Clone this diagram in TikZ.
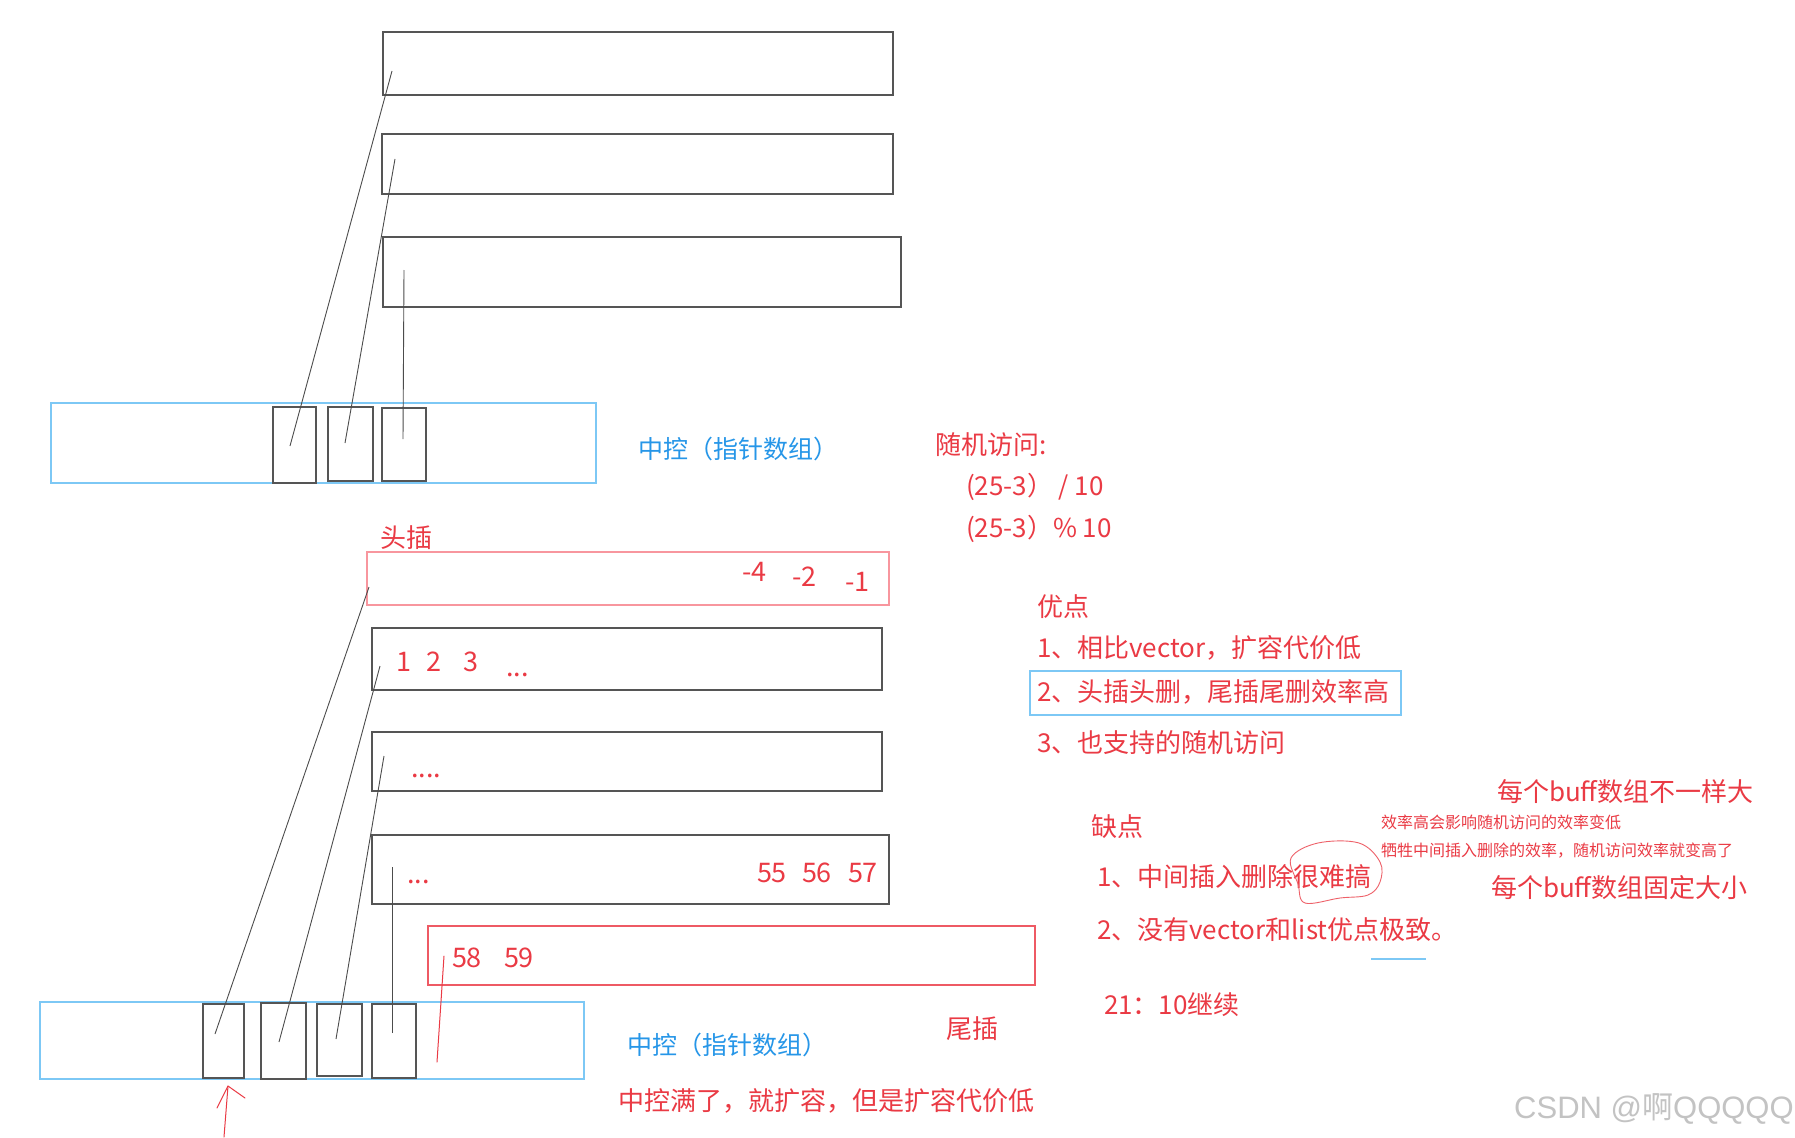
\documentclass[tikz,border=0pt]{standalone}
\usepackage{fontspec}
\setmainfont{Noto Sans CJK SC}
\newfontfamily\wmfont{Liberation Sans}
\usetikzlibrary{calc}
\definecolor{hred}{RGB}{234,58,68}
\definecolor{lred}{RGB}{248,150,158}
\definecolor{mred}{RGB}{238,90,100}
\definecolor{hblue}{RGB}{38,150,232}
\definecolor{lblue}{RGB}{125,200,245}
\definecolor{bx}{RGB}{85,85,85}
\definecolor{wm}{RGB}{195,195,195}
\begin{document}
\begin{tikzpicture}[x=1pt,y=-1pt,
  rect/.style={draw=bx, line width=1.2pt, anchor=north west, inner sep=0, outer sep=0},
  cell/.style={rect},
  ctrl/.style={draw=lblue, line width=1.5pt, anchor=north west, inner sep=0, outer sep=0},
  redbox/.style={draw=lred, line width=1.5pt, anchor=north west, inner sep=0, outer sep=0},
  ptr/.style={draw=black!70, line width=0.9pt},
  t/.style={anchor=west, inner sep=0, outer sep=0, text=hred, font=\fontsize{26}{30}\selectfont, text height=22pt, text depth=4pt},
  tb/.style={t, text=hblue, font=\fontsize{25}{29}\selectfont, text height=21.2pt, text depth=3.8pt},
  tn/.style={t, font=\fontsize{27}{30}\selectfont, text height=23pt, text depth=4pt},
  ts/.style={t, font=\fontsize{16}{18}\selectfont, text height=13.6pt, text depth=2.4pt},
  hand/.style={draw=hred, line width=1pt, line cap=round, line join=round}
]
\useasboundingbox (0,0) rectangle (1795,1137);
\fill[white] (0,0) rectangle (1795,1137);

% ---------- upper part ----------
\node[rect, minimum width=510, minimum height=63] (t1) at (383,32) {};
\node[rect, minimum width=511, minimum height=60] (t2) at (382,134) {};
\node[rect, minimum width=518, minimum height=70] (t3) at (383,237) {};

\node[ctrl, minimum width=545, minimum height=80] (uc) at (51,403) {};
\node[cell, minimum width=43, minimum height=76] (uc1) at (273,407) {};
\node[cell, minimum width=45, minimum height=74] (uc2) at (328,407) {};
\node[cell, minimum width=44, minimum height=73] (uc3) at (382,408) {};

\coordinate (u1a) at (290,446); \coordinate (u1b) at (392,71);
\coordinate (u2a) at (345,443); \coordinate (u2b) at (395,159);
\coordinate (u3a) at (403,439); \coordinate (u3b) at (404,270);
\draw[ptr] (u1a) -- (u1b);
\draw[ptr] (u2a) -- (u2b);
\draw[ptr] (u3a) -- (u3b);

\node[tb] (ulab) at (638,450) {中控（指针数组）};

% ---------- lower part ----------
\node[t] (toucha) at (380,538) {头插};
\node[redbox, minimum width=522, minimum height=53] (b1) at (367,552) {};
\node[tn] (n4) at (742,572) {-4};
\node[tn] (n2) at (792,577) {-2};
\node[tn] (n1) at (845,582) {-1};

\node[rect, minimum width=510, minimum height=62] (b2) at (372,628) {};
\node[tn] (d1) at (396,662) {1};
\node[tn] (d2) at (426,662) {2};
\node[tn] (d3) at (463,662) {3};
\node[tn, anchor=base west] (d4) at (506,676) {...};

\node[rect, minimum width=510, minimum height=59] (b3) at (372,732) {};
\node[tn, anchor=base west] (d5) at (411,777) {....};

\node[rect, minimum width=517, minimum height=69] (b4) at (372,835) {};
\node[tn, anchor=base west] (d6) at (407,883) {...};
\node[tn] (d55) at (757,873) {55};
\node[tn] (d56) at (802,873) {56};
\node[tn] (d57) at (848,873) {57};

\node[redbox, draw=mred, minimum width=607, minimum height=59] (b5) at (428,926) {};
\node[tn] (d58) at (452,958) {58};
\node[tn] (d59) at (504,958) {59};

\node[ctrl, minimum width=544, minimum height=77] (lc) at (40,1002) {};
\node[cell, minimum width=41, minimum height=74] (lc1) at (203,1004) {};
\node[cell, minimum width=45, minimum height=76] (lc2) at (261,1003) {};
\node[cell, minimum width=45, minimum height=72] (lc3) at (317,1004) {};
\node[cell, minimum width=44, minimum height=74] (lc4) at (372,1004) {};

\coordinate (l1a) at (215,1034); \coordinate (l1b) at (369,587);
\coordinate (l2a) at (279,1042); \coordinate (l2b) at (380,666);
\coordinate (l3a) at (336,1039); \coordinate (l3b) at (384,756);
\coordinate (l4a) at (392,1033); \coordinate (l4b) at (392,867);
\draw[ptr] (l1a) -- (l1b);
\draw[ptr] (l2a) -- (l2b);
\draw[ptr] (l3a) -- (l3b);
\draw[ptr] (l4a) -- (l4b);

% red strokes
\coordinate (rs1) at (444,956); \coordinate (rs2) at (437,1062);
\draw[hand] (rs1) -- (rs2);
\coordinate (ar0) at (224,1137); \coordinate (ar1) at (228,1086);
\coordinate (arl) at (217,1108); \coordinate (arr) at (245,1098);
\draw[hand] (ar0) -- (ar1);
\draw[hand] (arl) -- (ar1) -- (arr);

\node[tb] (llab) at (627,1046) {中控（指针数组）};
\node[t] (weicha) at (946,1029) {尾插};
\node[t] (full) at (618,1101) {中控满了，就扩容，但是扩容代价低};

% ---------- right texts ----------
\node[t] (ra) at (935,445) {随机访问:};
\node[t] (rb) at (966,486) {(25-3） / 10};
\node[t] (rc) at (966,528) {(25-3）\% 10};

\node[t] (yd) at (1037,607) {优点};
\node[t] (y1) at (1037,648) {1、相比vector，扩容代价低};
\node[t] (y2) at (1037,692) {2、头插头删，尾插尾删效率高};
\node[ctrl, minimum width=371, minimum height=44] (y2box) at (1030,671) {};
\node[t] (y3) at (1037,743) {3、也支持的随机访问};

\node[t] (bsz1) at (1497,792) {每个buff数组不一样大};
\node[t] (qd) at (1091,827) {缺点};
\node[ts] (s1) at (1381,823) {效率高会影响随机访问的效率变低};
\node[ts] (s2) at (1381,851) {牺牲中间插入删除的效率，随机访问效率就变高了};
\node[t] (q1) at (1097,877) {1、中间插入删除很难搞};
\node[t] (bsz2) at (1491,888) {每个buff数组固定大小};
\node[t] (q2) at (1097,930) {2、没有vector和list优点极致。};
\coordinate (ul1) at (1371,959); \coordinate (ul2) at (1426,959);
\draw[lblue, line width=1.5pt] (ul1) -- (ul2);
\node[t] (cont) at (1104,1005) {21：10继续};

% hand-drawn loop
\draw[draw=hred!80, line width=0.9pt] plot[smooth cycle, tension=0.6] coordinates
  {(1291,858) (1318,843) (1359,843) (1380,862) (1380,882) (1368,895) (1340,898) (1305,903) (1298,884)};

% watermark
\node[anchor=west, inner sep=0, text=wm, font=\fontsize{31}{34}\selectfont, text height=24pt, text depth=5pt] (wmk) at (1514,1109) {{\wmfont CSDN @}啊{\wmfont QQQQQ}};
\end{tikzpicture}
\end{document}
